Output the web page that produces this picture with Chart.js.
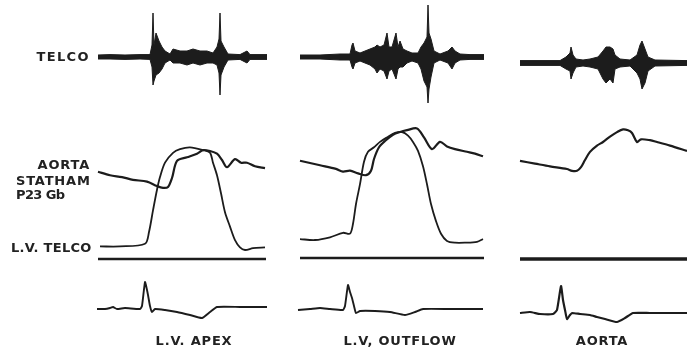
<!DOCTYPE html>
<html>
<head>
<meta charset="utf-8">
<script src="https://cdn.jsdelivr.net/npm/chart.js@4.4.1/dist/chart.umd.min.js"></script>
<style>
  html, body { margin: 0; padding: 0; background: #fff; }
  #wrap { position: relative; width: 687px; height: 351px; overflow: hidden; }
  #wrap canvas { position: absolute; left: 0; top: 0; }
  .lbl {
    position: absolute;
    font-family: 'DejaVu Sans', sans-serif;
    font-weight: bold;
    font-size: 13px;
    line-height: 1;
    color: #222;
    letter-spacing: 0.8px;
    white-space: nowrap;
    transform: translateY(-50%);
  }
  .c { transform: translate(-50%, -50%); }
</style>
</head>
<body>
<div id="wrap">
  <canvas id="traces" width="687" height="351"></canvas>
  <div class="lbl" style="right:597px; top:56px; letter-spacing:1.4px;">TELCO</div>
  <div class="lbl" style="right:597px; top:164px;">AORTA</div>
  <div class="lbl" style="left:16px; top:180px;">STATHAM</div>
  <div class="lbl" style="left:16px; top:194px; letter-spacing:-0.6px;">P23 Gb</div>
  <div class="lbl" style="left:11px; top:247px; letter-spacing:0.3px;">L.V. TELCO</div>
  <div class="lbl c" style="left:194px; top:340px;">L.V. APEX</div>
  <div class="lbl c" style="left:400px; top:340px;">L.V, OUTFLOW</div>
  <div class="lbl c" style="left:602px; top:340px;">AORTA</div>
</div>
<script>
// ---- data: time in ms from start of each strip ----

// L.V. APEX strip
const telcoTime1  = [5, 65, 140, 215, 265, 275, 280, 285, 295, 310, 325, 340, 365, 380, 415, 450, 480, 515, 550, 580, 600, 610, 615, 620, 635, 655, 715, 750, 765, 850];
const telcoUpper1 = [1, 1.2, 1, 1.2, 1.2, 6, 22, 6, 12, 8, 5, 3, 1.5, 4, 3, 3, 4, 3, 3, 2, 5, 9, 22, 8, 5, 1.5, 1.2, 3, 1.2, 1.2];
const telcoLower1 = [-1, -1, -1.2, -1, -1.2, -5, -14, -12, -9, -8, -6, -3, -1.5, -3, -3, -4, -3, -4, -3, -3, -4, -8, -19, -9, -5, -1.5, -1.2, -3, -1.2, -1.2];
const aortaTime1  = [5, 65, 125, 180, 250, 300, 330, 355, 375, 400, 450, 500, 530, 565, 600, 625, 650, 690, 720, 750, 790, 840];
const aortaP1     = [97, 93, 91, 88, 86, 81, 79, 80, 90, 109, 113, 117, 121, 120, 117, 110, 102, 111, 107, 107, 103, 101];
const lvTime1     = [15, 115, 240, 260, 280, 300, 315, 340, 380, 415, 465, 530, 565, 580, 600, 620, 640, 665, 690, 715, 740, 780, 840];
const lvP1        = [14, 14, 17, 30, 54, 77, 91, 107, 118, 122, 124, 121, 118, 107, 93, 73, 52, 36, 21, 13, 10, 12, 13];
const zeroTime1   = [5, 845];
const ecgTime1    = [0, 40, 65, 80, 100, 140, 215, 225, 240, 250, 255, 265, 275, 290, 340, 400, 465, 525, 565, 600, 715, 850];
const ecgMv1      = [0, 0, 0.04, 0.08, 0, 0.04, 0, 0.12, 1.08, 0.76, 0.56, 0.12, -0.12, 0, -0.04, -0.12, -0.24, -0.36, -0.12, 0.08, 0.08, 0.08];

// L.V. OUTFLOW strip
const telcoTime2  = [10, 110, 210, 260, 270, 275, 285, 310, 335, 360, 385, 395, 410, 430, 445, 455, 470, 490, 500, 510, 525, 545, 570, 600, 615, 630, 645, 650, 655, 665, 680, 710, 750, 770, 785, 810, 860, 930];
const telcoUpper2 = [1, 1, 1.5, 1.5, 6, 7, 3, 2, 3, 4, 5, 6, 5, 6, 12, 5, 5, 12, 5, 8, 4, 3, 2, 2, 5, 7, 10, 26, 12, 9, 3, 1.5, 3, 5, 3, 1.5, 1.2, 1.2];
const telcoLower2 = [-1, -1, -1.5, -1.5, -5, -6, -3, -2, -3, -4, -6, -8, -6, -7, -11, -7, -6, -11, -6, -5, -5, -3, -2, -3, -6, -12, -15, -23, -16, -10, -3, -1.5, -3, -6, -3, -1.5, -1.2, -1.2];
const aortaTime2  = [10, 110, 190, 225, 260, 300, 340, 365, 380, 405, 435, 475, 510, 545, 595, 630, 670, 710, 745, 785, 845, 885, 925];
const aortaP2     = [108, 103, 99, 96, 97, 94, 92, 97, 110, 123, 130, 137, 140, 142, 144, 134, 121, 129, 124, 121, 118, 116, 113];
const lvTime2     = [10, 85, 160, 225, 260, 275, 290, 310, 330, 350, 380, 410, 445, 485, 520, 550, 575, 600, 625, 645, 665, 690, 715, 745, 785, 835, 895, 925];
const lvP2        = [21, 20, 23, 28, 27, 38, 60, 82, 107, 118, 123, 129, 134, 139, 140, 136, 129, 119, 102, 82, 60, 41, 27, 19, 17, 17, 18, 21];
const zeroTime2   = [10, 930];
const ecgTime2    = [0, 60, 110, 160, 225, 235, 250, 260, 270, 280, 290, 310, 385, 460, 535, 585, 625, 760, 925];
const ecgMv2      = [0, 0.04, 0.08, 0.04, 0, 0.16, 1.0, 0.72, 0.48, 0.16, -0.12, -0.04, -0.04, -0.08, -0.2, -0.08, 0.04, 0.04, 0.04];

// AORTA strip
const telcoTime3  = [0, 100, 200, 230, 250, 255, 265, 280, 315, 350, 390, 415, 430, 450, 465, 475, 500, 550, 585, 600, 610, 625, 640, 675, 835];
const telcoUpper3 = [1.2, 1.2, 1.2, 3, 5, 8, 4, 2, 1.5, 2, 3, 6, 8, 8, 7, 4, 2, 1.5, 4, 9, 11, 7, 3, 1.5, 1.2];
const telcoLower3 = [-1.2, -1.2, -1.2, -3, -4, -8, -5, -2, -1.5, -2, -3, -8, -10, -8, -10, -3, -2, -1.5, -5, -8, -13, -10, -4, -1.5, -1.2];
const aortaTime3  = [0, 75, 150, 235, 260, 285, 305, 325, 350, 385, 415, 450, 485, 515, 540, 560, 585, 605, 650, 685, 750, 835];
const aortaP3     = [109, 106, 103, 100, 98, 98, 102, 110, 119, 126, 130, 136, 141, 144, 143, 140, 130, 133, 132, 130, 126, 120];
const zeroTime3   = [0, 835];
const ecgTime3    = [0, 50, 100, 165, 185, 205, 215, 225, 235, 250, 260, 300, 350, 385, 425, 485, 525, 565, 650, 835];
const ecgMv3      = [0, 0.04, -0.04, -0.04, 0.12, 1.08, 0.52, 0.12, -0.24, -0.08, 0, -0.04, -0.08, -0.16, -0.24, -0.36, -0.2, 0, 0, 0];

// ---- layout: where each strip sits on the page ----
const W = 687, H = 351;
const MS_PER_PX = 5;
const strips = [
  { id: 1, left: 97,  telcoBase: 57, zeroLine: 259, ecgBase: 309 },
  { id: 2, left: 298, telcoBase: 57, zeroLine: 258, ecgBase: 310 },
  { id: 3, left: 520, telcoBase: 63, zeroLine: 259, ecgBase: 313 }
];
const PX_PER_TELCO = 2;     // px per telco unit
const PX_PER_MMHG = 0.9;
const PX_PER_MV = 25;
const INK = '#1c1c1c';

function xScale(left) {
  return { type: 'linear', display: false, min: -left * MS_PER_PX, max: (W - left) * MS_PER_PX };
}
function yScale(base, pxPerUnit) {
  return { type: 'linear', display: false, min: -(H - base) / pxPerUnit, max: base / pxPerUnit };
}
function pts(xs, ys) {
  return xs.map((x, i) => ({ x: x, y: ys[i] }));
}
function flat(xs) {
  return xs.map(x => ({ x: x, y: 0 }));
}

const series = {
  1: { telco: [telcoTime1, telcoUpper1, telcoLower1], aorta: [aortaTime1, aortaP1], lv: [lvTime1, lvP1], zero: zeroTime1, ecg: [ecgTime1, ecgMv1] },
  2: { telco: [telcoTime2, telcoUpper2, telcoLower2], aorta: [aortaTime2, aortaP2], lv: [lvTime2, lvP2], zero: zeroTime2, ecg: [ecgTime2, ecgMv2] },
  3: { telco: [telcoTime3, telcoUpper3, telcoLower3], aorta: [aortaTime3, aortaP3], lv: null, zero: zeroTime3, ecg: [ecgTime3, ecgMv3] }
};

const scales = {};
const datasets = [];

strips.forEach(s => {
  const n = s.id;
  const d = series[n];
  scales['x' + n] = xScale(s.left);
  scales['t' + n] = yScale(s.telcoBase, PX_PER_TELCO);
  scales['p' + n] = yScale(s.zeroLine, PX_PER_MMHG);
  scales['e' + n] = yScale(s.ecgBase, PX_PER_MV);

  // telco envelope (upper filled down to lower)
  datasets.push({
    data: pts(d.telco[0], d.telco[1]), xAxisID: 'x' + n, yAxisID: 't' + n,
    borderColor: INK, backgroundColor: INK, borderWidth: 1, fill: '+1', tension: 0
  });
  datasets.push({
    data: pts(d.telco[0], d.telco[2]), xAxisID: 'x' + n, yAxisID: 't' + n,
    borderColor: INK, borderWidth: 1, fill: false, tension: 0
  });
  // aortic pressure
  datasets.push({
    data: pts(d.aorta[0], d.aorta[1]), xAxisID: 'x' + n, yAxisID: 'p' + n,
    borderColor: INK, borderWidth: 2.2, fill: false, tension: 0.3
  });
  // LV pressure
  if (d.lv) {
    datasets.push({
      data: pts(d.lv[0], d.lv[1]), xAxisID: 'x' + n, yAxisID: 'p' + n,
      borderColor: INK, borderWidth: 1.8, fill: false, tension: 0.3
    });
  }
  // zero pressure reference
  datasets.push({
    data: flat(d.zero), xAxisID: 'x' + n, yAxisID: 'p' + n,
    borderColor: INK, borderWidth: n === 3 ? 3.5 : 2.5, fill: false
  });
  // ECG
  datasets.push({
    data: pts(d.ecg[0], d.ecg[1]), xAxisID: 'x' + n, yAxisID: 'e' + n,
    borderColor: INK, borderWidth: n === 3 ? 2.2 : 1.9, fill: false, tension: 0.15
  });
});

new Chart(document.getElementById('traces').getContext('2d'), {
  type: 'line',
  data: { datasets: datasets },
  options: {
    responsive: false,
    animation: false,
    devicePixelRatio: 1,
    layout: { padding: 0 },
    elements: { point: { radius: 0 } },
    plugins: { legend: { display: false }, tooltip: { enabled: false } },
    scales: scales
  }
});
</script>
</body>
</html>
